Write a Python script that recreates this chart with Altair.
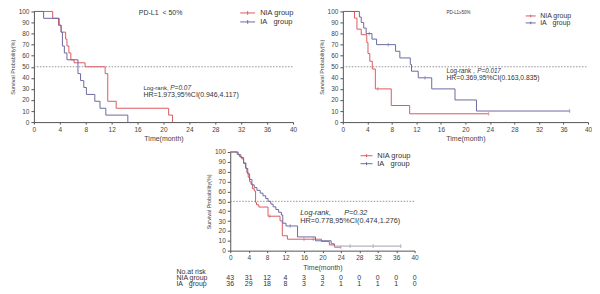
import altair as alt
import pandas as pd

FONT = "Liberation Sans"
RED = "#dc5a62"
BLUE = "#6a6aa2"
TAIL = "#b4b3c8"
NIA = "NIA group"
IA = "IA\u00a0\u00a0 group"
GROUPS = [NIA, IA]

time_ticks = [0, 4, 8, 12, 16, 20, 24, 28, 32, 36, 40]
surv_ticks = [0, 10, 20, 30, 40, 50, 60, 70, 80, 90, 100]

# ---- Panel A: PD-L1 < 50%
a_nia_t = [0, 2.9, 3.8, 4.2, 4.9, 5.1, 5.4, 5.7, 6.2, 7.9, 11.0, 11.4, 12.7, 20.8, 21.4]
a_nia_s = [100, 93.8, 87.5, 81.3, 75.0, 68.8, 62.5, 56.3, 53.6, 50.0, 43.8, 18.8, 12.5, 6.3, 0]
a_ia_t = [0, 1.5, 3.9, 4.2, 4.4, 4.7, 5.1, 6.8, 7.2, 7.7, 8.1, 9.4, 10.2, 11.1, 14.5]
a_ia_s = [100, 93.8, 87.5, 81.3, 68.8, 62.5, 56.3, 43.8, 37.5, 31.3, 25.0, 18.8, 12.5, 6.3, 0]

# ---- Panel B: PD-L1 >= 50%
b_nia_t = [0, 1.9, 2.3, 3.0, 3.9, 4.1, 4.4, 4.8, 5.3, 7.9, 10.9, 23.8]
b_nia_s = [100, 94, 84, 79, 72, 62, 55, 48, 30, 15, 7.5, 7.5]
b_ia_t = [0, 2.7, 3.0, 3.4, 3.8, 4.75, 5.5, 8.6, 9.3, 11.0, 11.2, 12.3, 14.5, 18.3, 21.8, 37.0]
b_ia_s = [100, 95, 90, 85, 80, 75, 70, 64, 58, 52, 46, 40, 30, 20, 10, 10]
b_cens_t = [5.7, 23.8, 4.3, 7.4, 13.4, 37.0]
b_cens_s = [30, 7.5, 80, 70, 40, 10]
b_cens_g = [NIA, NIA, IA, IA, IA, IA]

# ---- Panel C: all patients
c_nia_t = [0, 1.5, 2.0, 2.5, 2.9, 3.3, 3.6, 3.9, 4.2, 4.5, 4.8, 5.2, 5.5, 5.7, 6.2, 8.2, 10.8, 11.3, 12.4, 19.8, 21.5, 22.6, 24.0]
c_nia_s = [100, 97.7, 95.3, 93.0, 88.4, 83.7, 79.1, 74.4, 69.8, 67.4, 62.8, 60.5, 48.8, 46.5, 44.2, 34.9, 30.2, 15.1, 11.6, 9.3, 5.8, 3.5, 3.5]
c_ia_t = [0, 1.7, 2.3, 2.9, 3.4, 3.8, 4.2, 4.7, 5.2, 5.8, 6.5, 7.1, 7.7, 8.2, 8.8, 9.3, 9.9, 10.5, 11.1, 11.4, 12.1, 14.6, 18.5, 21.9, 22.6]
c_ia_s = [100, 97.2, 94.4, 88.9, 83.3, 77.8, 72.2, 66.7, 63.9, 61.1, 58.3, 55.6, 52.8, 50.0, 47.2, 44.4, 41.7, 38.9, 36.1, 27.8, 25.0, 13.9, 10.0, 6.9, 4.6]
c_tail_t = [22.6, 37.0]
c_tail_s = [4.6, 4.6]
c_cens_t = [8.6, 16.0, 18.0, 24.0, 13.0, 26.0, 31.0, 37.0]
c_cens_s = [34.9, 11.6, 11.6, 3.5, 25.0, 4.6, 4.6, 4.6]
c_cens_g = [NIA, NIA, NIA, NIA, IA, IA, IA, IA]

risk_times = [0, 4, 8, 12, 16, 20, 24, 28, 32, 36, 40]
risk_nia = [43, 31, 12, 4, 3, 3, 0, 0, 0, 0, 0]
risk_ia = [36, 29, 18, 8, 3, 2, 1, 1, 1, 1, 0]
risk_rows = ["No.at risk", "NIA group", "IA\u00a0\u00a0 group"]

# overall view (pixel frame shared by the three panels)
VIEW_W, VIEW_H = 556, 240
# panel frames inside the view: x range, y range (bottom, top)
A_X, A_Y = [0, 260], [111, 0]
B_X, B_Y = [310, 556], [111, 0]
C_X, C_Y = [197, 382], [240, 141]

AX_STYLE = dict(grid=False, labelFlush=False, labelOverlap=False, domainColor="#555",
                tickColor="#555", labelColor="#444", titleColor="#444",
                titleFontWeight="normal")


def curves(nia_t, nia_s, ia_t, ia_s):
    return pd.concat([
        pd.DataFrame({"t": nia_t, "s": nia_s, "group": NIA}),
        pd.DataFrame({"t": ia_t, "s": ia_s, "group": IA}),
    ])


def panel(df, cens, xr, yr, leg, label_size, notes, extra=None):
    x = alt.X("t:Q", scale=alt.Scale(domain=[0, 40], range=xr, nice=False, zero=False),
              axis=alt.Axis(values=time_ticks, title="Time(month)", orient="bottom",
                            offset=yr[0] - VIEW_H, labelFontSize=label_size,
                            titleFontSize=label_size + 0.5, tickSize=2, labelPadding=2,
                            titlePadding=2, **AX_STYLE))
    y = alt.Y("s:Q", scale=alt.Scale(domain=[0, 100], range=yr, nice=False, zero=False),
              axis=alt.Axis(values=surv_ticks, title="Survival Probability(%)", orient="left",
                            offset=-xr[0], labelFontSize=label_size, titleFontSize=5.5,
                            tickSize=3, labelPadding=2, titlePadding=3, **AX_STYLE))
    color_scale = alt.Scale(domain=GROUPS, range=[RED, BLUE])
    ref = alt.Chart(pd.DataFrame({"s": [50], "t": [0], "t2": [40]})).mark_rule(
        color="#777", strokeDash=[1.5, 1.5], strokeWidth=0.8
    ).encode(y=y, x=x, x2="t2:Q")
    lines = alt.Chart(df).mark_line(interpolate="step-after", strokeWidth=1).encode(
        x=x, y=y,
        color=alt.Color("group:N", scale=color_scale, sort=GROUPS,
                        legend=alt.Legend(orient="none", legendX=leg["x"], legendY=leg["y"],
                                          title=None, labelFontSize=leg["font"],
                                          symbolType="M-2,0H2M0,-0.5V0.5",
                                          symbolSize=leg["size"], symbolStrokeWidth=1,
                                          rowPadding=leg["gap"], labelOffset=leg["off"],
                                          labelColor="#333")),
    )
    layers = [ref, lines]
    if cens is not None:
        layers.append(alt.Chart(cens).mark_point(
            shape="M0,-1V1", size=14, filled=False, strokeWidth=0.8
        ).encode(x=x, y=y, color=alt.Color("group:N", scale=color_scale, legend=None)))
    for n in notes:
        d = pd.DataFrame({"t": [n["t"]], "s": [n["s"]], "label": [n["text"]]})
        layers.append(alt.Chart(d).mark_text(
            align="left", baseline="middle", fontSize=n["size"],
            fontStyle=n.get("style", "normal"), color="#333", dx=n.get("dx", 0)
        ).encode(x=x, y=y, text="label:N"))
    if extra is not None:
        layers.extend(extra(x, y))
    return alt.layer(*layers)


notes_a = [
    {"t": 16.2, "s": 98.5, "text": "PD-L1\u00a0\u00a0<\u00a050%", "size": 7},
    {"t": 16.9, "s": 30.6, "text": "Log-rank,", "size": 6},
    {"t": 16.9, "s": 30.6, "text": "P=0.07", "size": 6.5, "style": "italic", "dx": 27},
    {"t": 16.9, "s": 24.3, "text": "HR=1.973,95%CI(0.946,4.117)", "size": 7},
]
notes_b = [
    {"t": 16.9, "s": 98.5, "text": "PD-L1≥50%", "size": 4.5},
    {"t": 16.9, "s": 45.9, "text": "Log-rank ,", "size": 6.3},
    {"t": 16.9, "s": 45.9, "text": "P=0.017", "size": 6.3, "style": "italic", "dx": 31},
    {"t": 16.9, "s": 39.6, "text": "HR=0.369,95%CI(0.163,0.835)", "size": 6.8},
]
notes_c = [
    {"t": 15.2, "s": 38.5, "text": "Log-rank,", "size": 7.3, "style": "italic"},
    {"t": 15.2, "s": 38.5, "text": "P=0.32", "size": 7.3, "style": "italic", "dx": 44},
    {"t": 15.2, "s": 30.5, "text": "HR=0.778,95%CI(0.474,1.276)", "size": 7.3},
]


def extra_c(x, y):
    tail = alt.Chart(pd.DataFrame({"t": c_tail_t, "s": c_tail_s})).mark_line(
        strokeWidth=1.2, color=TAIL).encode(x=x, y=y)
    risk_df = pd.DataFrame({"t": risk_times, "nia": risk_nia, "ia": risk_ia})
    out = [
        tail,
        alt.Chart(risk_df).mark_text(fontSize=7, color="#333", baseline="middle").encode(
            x=x, y=alt.value(267.5), text="nia:Q"),
        alt.Chart(risk_df).mark_text(fontSize=7, color="#333", baseline="middle").encode(
            x=x, y=alt.value(273.5), text="ia:Q"),
    ]
    rows = pd.DataFrame({"label": risk_rows, "row": [0, 1, 2]})
    for i in range(3):
        out.append(alt.Chart(rows[rows["row"] == i]).mark_text(
            fontSize=7, color="#333", align="left", baseline="middle"
        ).encode(x=alt.value(143), y=alt.value(261.5 + 6 * i), text="label:N"))
    return out


df_a = curves(a_nia_t, a_nia_s, a_ia_t, a_ia_s)
df_b = curves(b_nia_t, b_nia_s, b_ia_t, b_ia_s)
df_c = curves(c_nia_t, c_nia_s, c_ia_t, c_ia_s)
cens_b = pd.DataFrame({"t": b_cens_t, "s": b_cens_s, "group": b_cens_g})
cens_c = pd.DataFrame({"t": c_cens_t, "s": c_cens_s, "group": c_cens_g})

leg_a = {"x": 210, "y": -3, "font": 7.5, "size": 56, "gap": -1, "off": 8}
leg_b = {"x": 495, "y": 1, "font": 7, "size": 25, "gap": -2, "off": 6}
leg_c = {"x": 330, "y": 141, "font": 7.5, "size": 36, "gap": -2, "off": 7}

pa = panel(df_a, None, A_X, A_Y, leg_a, 6.5, notes_a)
pb = panel(df_b, cens_b, B_X, B_Y, leg_b, 6.5, notes_b)
pc = panel(df_c, cens_c, C_X, C_Y, leg_c, 6.5, notes_c, extra=extra_c)

chart = alt.layer(pa, pb, pc).resolve_scale(
    x="independent", y="independent", color="independent"
).properties(
    width=VIEW_W, height=VIEW_H,
    padding={"left": 2, "top": 0, "right": 0, "bottom": 0},
).configure(font=FONT).configure_view(stroke=None)

chart.save("out.html", embed_options={"renderer": "svg", "actions": False})
